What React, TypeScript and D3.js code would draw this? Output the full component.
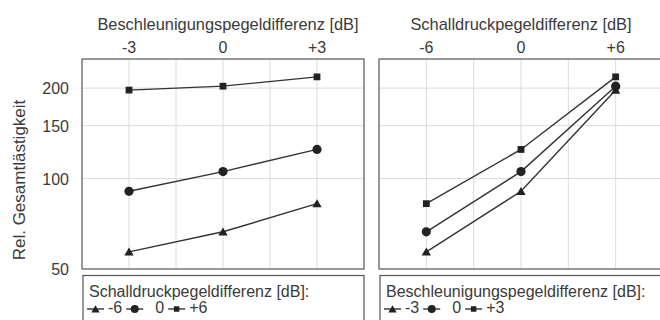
import React, { useRef, useEffect } from 'react'
import * as d3 from 'd3'

// rel. Gesamtlästigkeit, one array per Schalldruckpegeldifferenz,
// values in the order of beschlLevels (-3, 0, +3)
const beschlLevels = [-3, 0, 3]
const schallLevels = [-6, 0, 6]
const schallMinus6 = [57, 66.5, 82.5]
const schall0 = [90.7, 105.5, 125]
const schallPlus6 = [197, 203, 218]

const yTicks = [50, 100, 150, 200]
const beschlTickLabels = ['-3', '0', '+3']
const schallTickLabels = ['-6', '0', '+6']
const markers = ['triangle', 'circle', 'square']

const W = 660, H = 320
const TXT = '#3a3a3a'
const FONT = '"Liberation Sans", Arial, sans-serif'

export default function App() {
  const ref = useRef<SVGSVGElement>(null)

  useEffect(() => {
    const svg = d3.select(ref.current)
    svg.selectAll('*').remove()

    const y = d3.scaleLog().domain([50, 250]).range([269, 59])

    const drawMarker = (g: any, kind: string, cx: number, cy: number, small = false) => {
      if (kind === 'circle') {
        g.append('circle').attr('cx', cx).attr('cy', cy).attr('r', small ? 4 : 4.6).attr('fill', '#222')
      } else if (kind === 'square') {
        const s = small ? 5.5 : 6.8
        g.append('rect').attr('x', cx - s / 2).attr('y', cy - s / 2).attr('width', s).attr('height', s).attr('fill', '#222')
      } else {
        const sym = d3.symbol().type(d3.symbolTriangle).size(small ? 30 : 38)
        g.append('path').attr('d', sym()).attr('transform', `translate(${cx},${cy + 1})`).attr('fill', '#222')
      }
    }

    const panel = (
      x0: number, x1: number, half: number, xs: number[], xLabels: string[],
      title: string, titleShift: number, series: { key: string; vals: number[] }[],
      legendTitle: string, legendLabels: string[]
    ) => {
      const x = d3.scaleLinear().domain([-half, half]).range([x0, x1])
      const g = svg.append('g')

      // grid
      const gridX = d3.range(-half + half / 3, half, half / 3)
      g.selectAll(null).data(gridX).join('line')
        .attr('x1', d => x(d)).attr('x2', d => x(d))
        .attr('y1', y.range()[1]).attr('y2', y.range()[0])
        .attr('stroke', '#dcdcdc').attr('stroke-width', 1)
      g.selectAll(null).data(yTicks.slice(1)).join('line')
        .attr('x1', x0).attr('x2', x1)
        .attr('y1', d => y(d)).attr('y2', d => y(d))
        .attr('stroke', '#dcdcdc').attr('stroke-width', 1)

      // frame
      g.append('rect').attr('x', x0).attr('y', 59).attr('width', x1 - x0).attr('height', 210)
        .attr('fill', 'none').attr('stroke', '#555').attr('stroke-width', 1.2)

      // top axis labels
      g.selectAll(null).data(xs).join('text')
        .attr('x', d => x(d)).attr('y', 53).attr('text-anchor', 'middle')
        .attr('font-size', 16).attr('fill', TXT).attr('font-family', FONT)
        .text((d, i) => xLabels[i])
      g.append('text').attr('x', x(0) + titleShift).attr('y', 30).attr('text-anchor', 'middle')
        .attr('font-size', 16.4).attr('fill', TXT).attr('font-family', FONT).text(title)

      // series
      const line = d3.line<number>().x((d, i) => x(xs[i])).y(d => y(d))
      series.forEach((s) => {
        g.append('path').datum(s.vals).attr('d', line).attr('fill', 'none')
          .attr('stroke', '#333').attr('stroke-width', 1.4)
        s.vals.forEach((v, i) => drawMarker(g, s.key, x(xs[i]), y(v)))
      })

      // legend box
      g.append('rect').attr('x', x0 + 1).attr('y', 275.5).attr('width', x1 - x0 - 1).attr('height', 60)
        .attr('fill', 'none').attr('stroke', '#555').attr('stroke-width', 1.2)
      g.append('text').attr('x', x0 + 7).attr('y', 297).attr('font-size', 16)
        .attr('fill', TXT).attr('font-family', FONT).text(legendTitle)
      let lx = x0 + 5
      series.forEach((s, si) => {
        const ly = 309
        g.append('line').attr('x1', lx).attr('x2', lx + 17).attr('y1', ly).attr('y2', ly)
          .attr('stroke', '#333').attr('stroke-width', 1.4)
        drawMarker(g, s.key, lx + 8.5, ly, true)
        const pad = legendLabels[si] === '0' ? 12 : 4
        const t = g.append('text').attr('x', lx + 17 + pad).attr('y', 313)
          .attr('font-size', 16).attr('fill', TXT).attr('font-family', FONT).text(legendLabels[si])
        const w = (t.node() as SVGTextElement).getComputedTextLength()
        lx += 17 + pad + w + 4
      })
    }

    const left = [schallMinus6, schall0, schallPlus6]
    panel(82, 364, 4.5, beschlLevels, beschlTickLabels, 'Beschleunigungspegeldifferenz [dB]', 5,
      left.map((vals, i) => ({ key: markers[i], vals })),
      'Schalldruckpegeldifferenz [dB]:', schallTickLabels)

    // right panel: same data, transposed (lines = Beschleunigungspegel)
    const right = beschlLevels.map((_, bi) => left.map(row => row[bi]))
    panel(379, 663, 9, schallLevels, schallTickLabels, 'Schalldruckpegeldifferenz [dB]', 0,
      right.map((vals, i) => ({ key: markers[i], vals })),
      'Beschleunigungspegeldifferenz [dB]:', beschlTickLabels)

    // y axis
    svg.append('g').selectAll(null).data(yTicks).join('text')
      .attr('x', 69).attr('y', d => y(d) + 6).attr('text-anchor', 'end')
      .attr('font-size', 16).attr('fill', TXT).attr('font-family', FONT)
      .text(d => d)
    svg.append('text').attr('transform', 'translate(25,180) rotate(-90)').attr('text-anchor', 'middle')
      .attr('font-size', 17).attr('fill', TXT).attr('font-family', FONT).text('Rel. Gesamtlästigkeit')
  }, [])

  return (
    <svg ref={ref} width={W} height={H} style={{ position: 'absolute', left: 0, top: 0, background: '#fff' }} />
  )
}
